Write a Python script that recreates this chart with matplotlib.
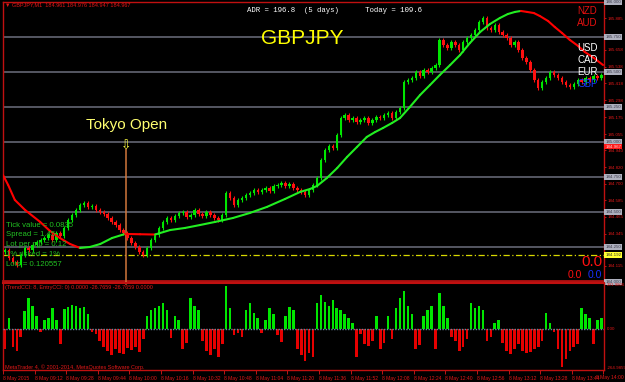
import matplotlib
matplotlib.use('Agg')
import matplotlib.pyplot as plt
import numpy as np

plt.rcParams['font.family'] = ['Liberation Sans', 'DejaVu Sans']

# 2-minute bars, 8 May 2015 08:56 - 14:00, GBPJPY
first_open = 184.214
closes = [
    184.229, 184.171, 184.143, 184.121, 184.193, 184.243, 184.229, 184.264, 184.286, 184.300,
    184.314, 184.336, 184.300, 184.350, 184.329, 184.386, 184.443, 184.479, 184.514, 184.550,
    184.564, 184.536, 184.543, 184.514, 184.500, 184.486, 184.457, 184.429, 184.407, 184.371,
    184.350, 184.314, 184.279, 184.250, 184.214, 184.193, 184.243, 184.300, 184.336, 184.386,
    184.429, 184.457, 184.443, 184.471, 184.493, 184.500, 184.464, 184.479, 184.514, 184.486,
    184.471, 184.500, 184.479, 184.457, 184.443, 184.479, 184.636, 184.600, 184.550, 184.586,
    184.600, 184.621, 184.636, 184.657, 184.643, 184.657, 184.671, 184.650, 184.686, 184.693,
    184.707, 184.686, 184.700, 184.671, 184.657, 184.643, 184.621, 184.657, 184.693, 184.743,
    184.871, 184.943, 184.971, 184.957, 185.050, 185.171, 185.193, 185.157, 185.171, 185.143,
    185.157, 185.171, 185.136, 185.157, 185.179, 185.171, 185.193, 185.207, 185.171, 185.214,
    185.243, 185.429, 185.443, 185.457, 185.500, 185.471, 185.514, 185.500, 185.529, 185.550,
    185.729, 185.693, 185.671, 185.714, 185.693, 185.657, 185.714, 185.743, 185.764, 185.800,
    185.857, 185.886, 185.814, 185.800, 185.836, 185.786, 185.764, 185.743, 185.693, 185.714,
    185.657, 185.600, 185.571, 185.514, 185.443, 185.386, 185.429, 185.457, 185.500, 185.479,
    185.457, 185.429, 185.407, 185.393, 185.414, 185.443, 185.429, 185.457, 185.443, 185.471,
    185.457, 185.479,
]

# moving average
ma_bars = [-0.5, 0.8, 2.5, 5.1, 8.9, 11.4, 13.9, 16.5, 19.0, 21.5, 24.1, 27.1, 30.4, 34.2,
           38.0, 41.8, 45.6, 49.4, 53.2, 57.7, 62.0, 66.3, 70.9, 74.7, 77.2, 79.0, 81.5,
           84.1, 86.6, 89.1, 91.6, 93.7, 95.7, 98.0, 100.0, 102.5, 105.1, 107.6, 110.1,
           112.7, 115.2, 117.7, 120.3, 122.8, 125.3, 127.3, 129.1, 130.6, 132.2, 133.9,
           135.4, 137.5, 139.2, 141.0, 143.0, 145.1, 146.8, 149.1, 151.4]
ma_prices = [184.764, 184.693, 184.586, 184.514, 184.429, 184.364, 184.314, 184.271, 184.243,
             184.250, 184.271, 184.314, 184.343, 184.341, 184.339, 184.371, 184.386, 184.407,
             184.429, 184.457, 184.493, 184.536, 184.593, 184.643, 184.664, 184.686, 184.743,
             184.814, 184.893, 184.964, 185.036, 185.071, 185.100, 185.136, 185.171, 185.250,
             185.336, 185.407, 185.479, 185.550, 185.621, 185.707, 185.786, 185.843, 185.886,
             185.914, 185.929, 185.936, 185.929, 185.921, 185.900, 185.864, 185.821, 185.779,
             185.729, 185.686, 185.643, 185.600, 185.550]

# CCI histogram
cci = [
    -130, 65, -117, -143, -52, 110, 195, 143, 78, -20,
    52, 65, 130, 52, -98, 124, 137, 150, 143, 130,
    137, 91, -20, -33, -78, -117, -143, -169, -130, -156,
    -163, -124, -137, -117, -150, -65, 78, 117, 130, 143,
    163, 117, -59, 78, 52, -130, -91, 195, 143, 117,
    -78, -143, -169, -130, -182, -98, 273, 130, -39, -26,
    -52, 117, 163, 98, 65, -26, 52, 130, 91, -39,
    -85, 78, 137, 117, -130, -169, -208, -156, -182, 163,
    215, 169, 143, 182, 130, 117, 91, 65, 39, -182,
    -33, -98, -111, -78, 78, -130, -91, 78, -65, 130,
    195, 241, 143, 91, -130, -104, 78, 117, 143, -130,
    228, 143, 65, -52, -78, -143, -117, -65, 163, 130,
    143, 117, -78, -52, 33, 52, -91, -143, -163, -130,
    -98, -143, -156, -150, -130, -117, -78, 98, 33, -20,
    -130, -247, -195, -143, -117, -98, 130, 91, 65, -98,
    52, 65,
]

date_labels = ['8 May 2015', '8 May 09:12', '8 May 09:28', '8 May 09:44', '8 May 10:00',
               '8 May 10:16', '8 May 10:32', '8 May 10:48', '8 May 11:04', '8 May 11:20',
               '8 May 11:36', '8 May 11:52', '8 May 12:08', '8 May 12:24', '8 May 12:40',
               '8 May 12:56', '8 May 13:12', '8 May 13:28', '8 May 13:44', '8 May 14:00']
date_ticks = [8 * j - 0.5 for j in range(len(date_labels))]

price_ticks = [185.885, 185.658, 185.538, 185.418, 185.298, 185.175, 185.055, 184.940,
               184.820, 184.700, 184.585, 184.465, 184.345, 184.115]
round_levels = [186.000, 185.750, 185.500, 185.250, 185.000, 184.750, 184.500, 184.250, 184.000]
bid_level = 184.967
daily_open = 184.192
tokyo_bar = 30.6

RED = '#e01818'
GREEN = '#00e600'
W, H = 625, 382
LBL = 3.2


def px(x, y):
    return x / W, 1 - y / H


fig = plt.figure(figsize=(6.25, 3.82), dpi=100, facecolor='black')
ax = fig.add_axes([3 / W, 1 - 281 / H, 601 / W, 279 / H], facecolor='black')
axi = fig.add_axes([3 / W, 1 - 370 / H, 601 / W, 87 / H], facecolor='black')

# candles
c = np.array(closes)
o = np.r_[first_open, c[:-1]]
k = np.arange(len(c))
cols = np.where(c >= o, GREEN, '#ff1010')
wick = 0.012
ax.vlines(k, np.minimum(o, c) - wick, np.maximum(o, c) + wick, colors=cols, lw=0.8, zorder=3)
ax.bar(k, np.maximum(np.abs(c - o), 0.005), bottom=np.minimum(o, c), width=0.62,
       color=cols, zorder=3)

# moving average, red when falling
for i in range(len(ma_bars) - 1):
    col = '#22ee22' if ma_prices[i + 1] >= ma_prices[i] else '#ff0000'
    ax.plot(ma_bars[i:i + 2], ma_prices[i:i + 2], color=col, lw=1.5, zorder=4,
            solid_capstyle='round')

for lv in round_levels[1:-1]:
    ax.axhline(lv, color='#6c6e7c', lw=1.1, zorder=1)
ax.axhline(daily_open, color='#d8d800', lw=0.9, ls=(0, (5, 2, 1, 2)), zorder=2)
ax.vlines(tokyo_bar, 184.0, 184.95, color='#d2783c', lw=1.1, zorder=2)

ax.set_xlim(-0.5, 151.65)
ax.set_ylim(184.007, 186.0)
ax.set_xticks([])
ax.yaxis.tick_right()
ax.set_yticks(price_ticks)
ax.set_yticklabels([f'{p:.3f}' for p in price_ticks])
ax.tick_params(axis='y', colors=RED, labelsize=LBL, length=1.5, pad=0.8, width=0.6)
for s in ['left', 'right', 'top']:
    ax.spines[s].set_color('#c01010')
    ax.spines[s].set_linewidth(1)
ax.spines['bottom'].set_color('#b01010')
ax.spines['bottom'].set_linewidth(2)

tr = ax.get_yaxis_transform()
box = dict(boxstyle='square,pad=0.2', ec='none')
for lv in round_levels:
    ax.text(1.002, lv, f'{lv:.3f}', transform=tr, fontsize=LBL, color='#3c3c4c', va='center',
            clip_on=False, bbox=dict(box, fc='#aeb0be'))
ax.text(1.002, bid_level, f'{bid_level:.3f}', transform=tr, fontsize=LBL, color='#ffd0d0',
        va='center', clip_on=False, bbox=dict(box, fc='#ff1a1a'))
ax.text(1.002, daily_open, f'{daily_open:.3f}', transform=tr, fontsize=LBL, color='#303030',
        va='center', clip_on=False, bbox=dict(box, fc='#ffff30'))

# CCI panel
cv = np.array(cci)
kc = np.arange(len(cv))
axi.bar(kc, cv, width=0.65, color=np.where(cv >= 0, GREEN, '#e60000'), zorder=2)
axi.axhline(0, color='#6a8aa0', lw=1, ls=(0, (1, 1)), zorder=3)
axi.axvline(tokyo_bar, ymin=0.985, ymax=1.02, color='#d2783c', lw=1.1, clip_on=False)
axi.set_xlim(-0.5, 151.65)
axi.set_ylim(-264.9859, 291.9806)
axi.set_yticks([])
axi.set_xticks(date_ticks)
# last label sits against the right edge, drawn separately below
axi.set_xticklabels(date_labels[:-1] + [''], ha='left')
axi.tick_params(axis='x', colors=RED, labelsize=3.6, length=3, pad=1.5, width=0.6)
for s in ['left', 'right', 'top', 'bottom']:
    axi.spines[s].set_color('#c01010')
    axi.spines[s].set_linewidth(1)
axi.spines['top'].set_linewidth(1.5)
tri = axi.get_yaxis_transform()
for v, lab, va in [(291.9806, '291.9806', 'top'), (0, '0.00', 'center'),
                   (-264.9859, '-264.9859', 'bottom')]:
    axi.text(1.004, v, lab, transform=tri, fontsize=LBL, color=RED, va=va, clip_on=False)
fig.text(*px(624, 377), date_labels[-1], color=RED, fontsize=3.6, ha='right', va='center')

# annotations
fig.text(*px(5, 5), '\u25bc GBPJPY,M1  184.961 184.976 184.947 184.967', color=RED,
         fontsize=4.0, va='center')
fig.text(*px(247, 10), 'ADR = 196.8  (5 days)      Today = 109.6', color='white',
         family='Liberation Mono', fontsize=5.3, va='center')
fig.text(*px(302, 38), 'GBPJPY', color='#ffff00', fontsize=15, ha='center', va='center')
fig.text(*px(127, 125), 'Tokyo Open', color='#ffff70', fontsize=11, ha='center', va='center')
fig.text(*px(126, 146), '\u21e9', color='#ffff40', fontsize=9, ha='center', va='center',
         family=['DejaVu Sans'])

for lab, y, col in [('NZD', 11, '#e81010'), ('AUD', 23, '#e81010'), ('USD', 48, 'white'),
                    ('CAD', 60, 'white'), ('EUR', 72, 'white'), ('GBP', 84, '#1838ff')]:
    fig.text(*px(577, y), lab, color=col, fontsize=7, va='center')

info = ['Tick value = 0.0835', 'Spread = 1.45', 'Lot per pip = 0.12', '1% risked = 1%',
        'Lots = 0.120557']
for i, line in enumerate(info):
    fig.text(*px(6, 225 + 10 * i), line, color='#22c022', fontsize=5.6, va='center')

fig.text(*px(592, 262), '0.0', color='#ff1010', fontsize=11, ha='center', va='center')
fig.text(*px(575, 275), '0.0', color='#ff1010', fontsize=7.5, ha='center', va='center')
fig.text(*px(595, 275), '0.0', color='#1830ff', fontsize=7.5, ha='center', va='center')

fig.text(*px(5, 288), '(TrendCCI: 8, EntryCCI: 0) 0.0000 -26.7659 -26.7659 0.0000', color=RED,
         fontsize=4.0, va='center')
fig.text(*px(5, 367), 'MetaTrader 4, \u00a9 2001-2014, MetaQuotes Software Corp.', color=RED,
         fontsize=4.0, va='center')

fig.savefig('out.png', dpi=100, facecolor='black')
